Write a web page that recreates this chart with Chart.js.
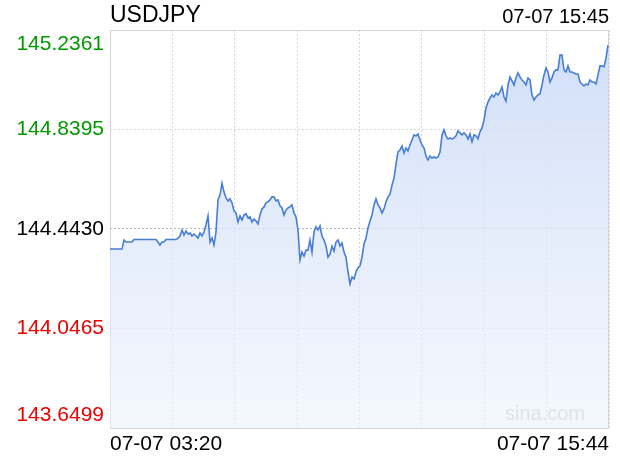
<!DOCTYPE html>
<html>
<head>
<meta charset="utf-8">
<script src="https://cdn.jsdelivr.net/npm/chart.js@4/dist/chart.umd.min.js"></script>
<style>
html,body{margin:0;padding:0;background:#fff;}
#wrap{width:620px;height:460px;position:relative;}
</style>
</head>
<body>
<div id="wrap"><canvas id="c" width="620" height="460"></canvas></div>
<script>
const symbol = 'USDJPY';
const stamp = '07-07 15:45';
const watermark = 'sina.com';
const xTickLabels = ['07-07 03:20', '07-07 15:44'];
const yTicks = [143.6499, 144.0465, 144.4430, 144.8395, 145.2361];
const yTickColors = ['#ee0000', '#ee0000', '#000000', '#009900', '#009900'];
const prevClose = 144.4430;
const prices = [
  144.363,144.363,144.363,144.363,144.363,144.363,144.363,144.399,144.391,144.391,
  144.391,144.391,144.401,144.401,144.401,144.401,144.401,144.401,144.401,144.401,
  144.401,144.401,144.401,144.401,144.391,144.379,144.391,144.391,144.401,144.401,
  144.401,144.401,144.401,144.401,144.407,144.415,144.439,144.419,144.435,144.423,
  144.427,144.415,144.423,144.415,144.407,144.427,144.415,144.431,144.459,144.495,
  144.391,144.407,144.379,144.431,144.559,144.578,144.626,144.590,144.567,144.555,
  144.563,144.547,144.515,144.507,144.471,144.495,144.479,144.499,144.503,144.487,
  144.491,144.471,144.483,144.475,144.463,144.499,144.523,144.531,144.547,144.551,
  144.559,144.571,144.571,144.555,144.559,144.535,144.527,144.499,144.519,144.527,
  144.531,144.539,144.507,144.491,144.439,144.320,144.351,144.335,144.359,144.359,
  144.399,144.351,144.431,144.451,144.439,144.455,144.415,144.399,144.375,144.331,
  144.343,144.375,144.355,144.391,144.399,144.375,144.387,144.351,144.331,144.272,
  144.224,144.252,144.244,144.272,144.288,144.296,144.331,144.383,144.407,144.447,
  144.475,144.499,144.539,144.563,144.539,144.527,144.507,144.523,144.551,144.571,
  144.582,144.618,144.646,144.702,144.750,144.758,144.774,144.746,144.766,144.754,
  144.778,144.798,144.818,144.814,144.822,144.798,144.778,144.766,144.734,144.718,
  144.734,144.726,144.730,144.726,144.730,144.750,144.818,144.838,144.814,144.802,
  144.806,144.802,144.806,144.814,144.834,144.826,144.818,144.826,144.818,144.802,
  144.822,144.790,144.818,144.814,144.802,144.830,144.846,144.877,144.925,144.949,
  144.965,144.977,144.969,144.985,144.977,144.989,145.009,144.969,144.953,145.017,
  145.049,145.033,145.017,145.045,145.065,145.049,145.037,145.029,145.017,145.045,
  145.037,144.977,144.957,144.969,144.977,144.981,145.017,145.057,145.085,145.069,
  145.029,145.045,145.069,145.077,145.077,145.136,145.136,145.077,145.069,145.093,
  145.069,145.069,145.065,145.061,145.061,145.029,145.021,145.013,145.021,145.017,
  145.037,145.029,145.029,145.021,145.057,145.093,145.093,145.089,145.124,145.176
];

const FONT = '"Liberation Sans", Arial, Helvetica, sans-serif';
const points = prices.map((v, i) => ({ x: i, y: v }));
const xMax = prices.length - 0.5;

const textPlugin = {
  id: 'texts',
  beforeDatasetsDraw(chart) {
    const { ctx, chartArea: a } = chart;
    ctx.save();
    ctx.font = '20px ' + FONT;
    ctx.fillStyle = '#cccccc';
    ctx.textAlign = 'right';
    ctx.textBaseline = 'middle';
    ctx.fillText(watermark, a.right - 24, a.bottom - 14);
    ctx.strokeStyle = '#d4d4d4';
    ctx.lineWidth = 1;
    ctx.setLineDash([]);
    ctx.strokeRect(Math.round(a.left) + 0.5, Math.round(a.top) + 0.5,
      Math.round(a.right - a.left) - 1, Math.round(a.bottom - a.top));
    ctx.restore();
  },
  afterDraw(chart) {
    const { ctx, chartArea: a, scales } = chart;
    const ys = scales.y;
    ctx.save();
    ctx.font = '23px ' + FONT;
    ctx.fillStyle = '#000';
    ctx.textAlign = 'left';
    ctx.textBaseline = 'middle';
    ctx.fillText(symbol, a.left, 16);
    ctx.font = '20px ' + FONT;
    ctx.textAlign = 'right';
    ctx.fillText(stamp, a.right, 17);
    ctx.font = '21px ' + FONT;
    yTicks.forEach((v, i) => {
      let y = ys.getPixelForValue(v);
      ctx.fillStyle = yTickColors[i];
      ctx.textAlign = 'right';
      ctx.textBaseline = 'middle';
      if (i === yTicks.length - 1) y += 14;
      else if (i === 0) y -= 13;
      ctx.fillText(v.toFixed(4), a.left - 6, y);
    });
    ctx.restore();
  }
};

new Chart(document.getElementById('c'), {
  type: 'line',
  data: {
    datasets: [{
      data: points,
      borderColor: 'rgb(70,126,214)',
      borderWidth: 1.6,
      pointRadius: 0,
      tension: 0,
      fill: 'start',
      backgroundColor(ctx) {
        const a = ctx.chart.chartArea;
        if (!a) return 'rgba(200,215,245,0.5)';
        const g = ctx.chart.ctx.createLinearGradient(0, a.top, 0, a.bottom);
        g.addColorStop(0, 'rgba(205,220,248,0.95)');
        g.addColorStop(1, 'rgba(236,242,252,0.6)');
        return g;
      }
    }]
  },
  options: {
    responsive: false,
    animation: false,
    devicePixelRatio: 1,
    layout: { padding: { top: 30, right: 11, bottom: 0, left: 0 } },
    plugins: { legend: { display: false }, tooltip: { enabled: false }, title: { display: false } },
    scales: {
      x: {
        type: 'linear',
        min: 0,
        max: xMax,
        afterBuildTicks(s) {
          const t = [];
          for (let k = 0; k <= 8; k++) t.push({ value: k * xMax / 8 });
          s.ticks = t;
        },
        afterFit(s) { s.height = 32; },
        grid: { color: '#d6d6d6', drawTicks: false, lineWidth: 1 },
        border: { display: false, dash: [2, 2] },
        ticks: {
          autoSkip: false,
          maxRotation: 0,
          align: 'inner',
          padding: 4,
          color: '#000',
          font: { family: FONT, size: 21 },
          callback(v, i, t) {
            if (i === 0) return xTickLabels[0];
            if (i === t.length - 1) return xTickLabels[1];
            return '';
          }
        }
      },
      y: {
        min: yTicks[0],
        max: yTicks[yTicks.length - 1],
        afterBuildTicks(s) { s.ticks = yTicks.map(v => ({ value: v })); },
        afterFit(s) { s.width = 110; },
        grid: {
          drawTicks: false,
          lineWidth: 1,
          color(c) { return c.tick && Math.abs(c.tick.value - prevClose) < 1e-6 ? '#b8b8b8' : '#d6d6d6'; }
        },
        border: { display: false, dash: [2, 2] },
        ticks: { display: false }
      }
    }
  },
  plugins: [textPlugin]
});
</script>
</body>
</html>
